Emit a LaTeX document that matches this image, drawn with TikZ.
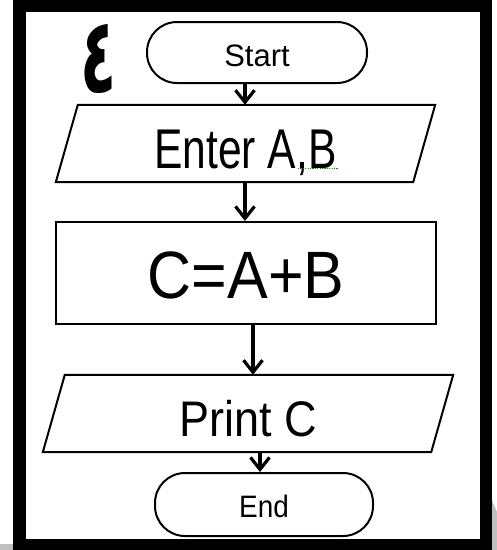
\documentclass[tikz,border=0pt]{standalone}
\usepackage{fontspec}
\usepackage{graphicx}
\setmainfont{Liberation Sans}
\newfontfamily\arabicfont[Script=Arabic]{DejaVu Sans}
\TeXXeTstate=1
\usetikzlibrary{arrows.meta}
\begin{document}
\begin{tikzpicture}[x=1pt,y=-1pt,
  term/.style={draw=black, line width=2pt, rounded corners=30pt, minimum width=220pt, minimum height=61pt, inner sep=0pt},
  iobox/.style={minimum width=357pt, minimum height=77pt, inner sep=0pt},
  procbox/.style={draw=black, line width=2pt, minimum width=380pt, minimum height=102pt, inner sep=0pt},
  shapeline/.style={draw=black, line width=2pt, line join=miter},
  arr/.style={line width=3.2pt, -{Straight Barb[length=12pt,width=19pt,line width=3.2pt]}}]
\useasboundingbox (0,0) rectangle (497,550);
% frame
\fill[black!25] (0,544) rectangle (13,550);
\fill[black!25] (492,500) -- (497,512) -- (497,550) -- (492,550) -- cycle;
\fill[black] (13,0) rectangle (492,550);
\fill[white] (26,12) rectangle (480,539);
% digit
\node (num) at (99,59) {\scalebox{0.9}[1.6]{\arabicfont\bfseries\fontsize{66}{70}\selectfont\beginR ٤\endR}};
% nodes
\node[term] (start) at (257,52.5) {\raisebox{-14pt}[0pt][0pt]{\fontsize{31}{34}\selectfont Start}};
\node[iobox] (enter) at (245.5,143.5) {\raisebox{-24.5pt}[0pt][0pt]{\scalebox{0.76}[1]{\fontsize{56}{60}\selectfont Enter A,B}}};
\draw[shapeline] ([xshift=11pt]enter.north west) -- ([xshift=11pt]enter.north east) -- ([xshift=-11pt]enter.south east) -- ([xshift=-11pt]enter.south west) -- cycle;
\node[procbox] (calc) at (246,273) {\raisebox{-25pt}[0pt][0pt]{\scalebox{0.91}[1]{\fontsize{67}{70}\selectfont C=A+B}}};
\node[iobox, minimum width=388pt] (print) at (248,413.5) {\raisebox{-23.4pt}[0pt][0pt]{\scalebox{0.9}[1]{\fontsize{50}{54}\selectfont Print C}}};
\draw[shapeline] ([xshift=11pt]print.north west) -- ([xshift=11pt]print.north east) -- ([xshift=-11pt]print.south east) -- ([xshift=-11pt]print.south west) -- cycle;
\node[term, minimum width=218pt, minimum height=63pt] (end) at (264,504.5) {\raisebox{-12.6pt}[0pt][0pt]{\scalebox{0.9}[1]{\fontsize{31}{34}\selectfont End}}};
% spell-check underline
\coordinate (u1) at (298,168);
\coordinate (u2) at (338,168);
\draw[green!60!black, line width=0.8pt, dash pattern=on 1.2pt off 1.2pt] (u1) -- (u2);
% connectors
\coordinate (ax1) at (245,0);
\coordinate (ax2) at (253,0);
\coordinate (ax3) at (260,0);
\draw[arr] (start.south -| ax1) -- (enter.north -| ax1);
\draw[arr] (enter.south -| ax1) -- (calc.north -| ax1);
\draw[arr] (calc.south -| ax2) -- (print.north -| ax2);
\draw[arr] (print.south -| ax3) -- (end.north -| ax3);
\end{tikzpicture}
\end{document}
